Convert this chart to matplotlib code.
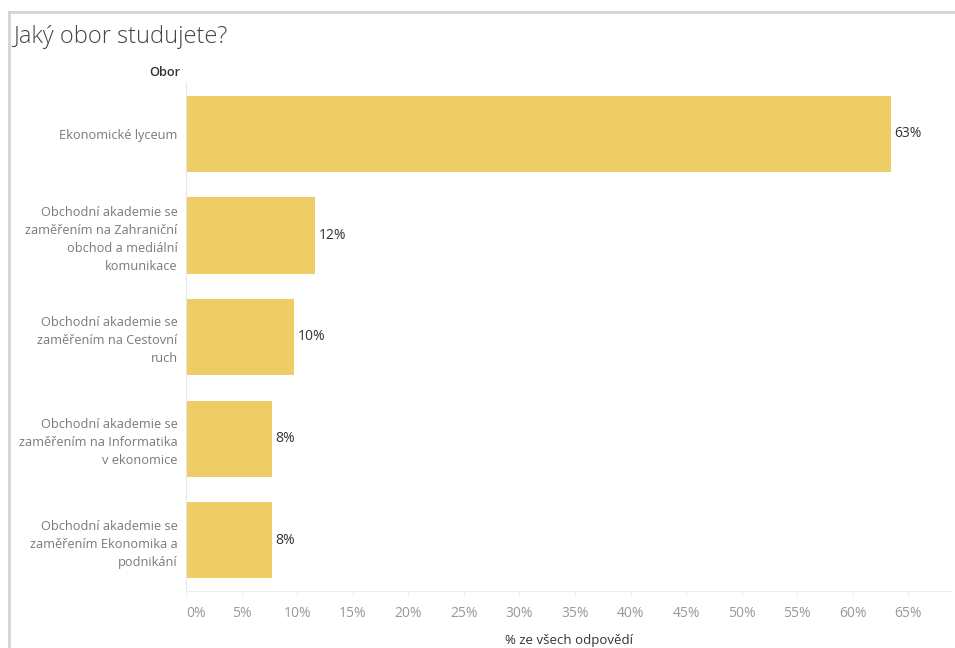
import matplotlib
matplotlib.use("Agg")
import matplotlib.pyplot as plt
from matplotlib.lines import Line2D

categories = [
    "Ekonomické lyceum",
    "Obchodní akademie se\nzaměřením na Zahraniční\nobchod a mediální\nkomunikace",
    "Obchodní akademie se\nzaměřením na Cestovní\nruch",
    "Obchodní akademie se\nzaměřením na Informatika\nv ekonomice",
    "Obchodní akademie se\nzaměřením Ekonomika a\npodnikání",
]
values = [63.4, 11.6, 9.7, 7.7, 7.7]
xticks = list(range(0, 70, 5))
xtick_labels = [f"{t}%" for t in xticks]

plt.rcParams['font.family'] = ['Open Sans', 'DejaVu Sans']

W, H = 955, 648
fig = plt.figure(figsize=(W / 100, H / 100), dpi=100)

def fx(px):
    return px / W

def fy(py):
    return 1 - py / H

ax_left, ax_right, ax_top, ax_bottom = 186, 952, 83, 591
ax = fig.add_axes([fx(ax_left), fy(ax_bottom), fx(ax_right - ax_left), (ax_bottom - ax_top) / H])

n = len(categories)
ypos = list(range(n))
ax.barh(ypos, values, height=0.75, color="#EFCD66", zorder=2)
ax.set_ylim(n - 0.5, -0.5)
ax.set_xlim(0, (ax_right - 185.5) / 11.12)

for y, v in zip(ypos, values):
    ax.text(v + 0.35, y, f"{round(v)}%", va="center", ha="left", fontsize=10, color="#333333")

ax.set_yticks(ypos)
ax.set_yticklabels(categories, fontsize=9.2, color="#7a7a7a", linespacing=1.5)
ax.tick_params(axis="y", length=0, pad=6)

ax.set_xticks(xticks)
ax.set_xticklabels(xtick_labels, fontsize=10, color="#999999")
ax.tick_params(axis="x", length=4, width=0.6, color="#eeeeee", pad=7, direction="out")
lbls = ax.get_xticklabels()
lbls[0].set_horizontalalignment("left")

for s in ["top", "right"]:
    ax.spines[s].set_visible(False)
ax.spines["left"].set_color("#e6e6e6")
ax.spines["left"].set_linewidth(0.8)
ax.spines["bottom"].set_color("#eeeeee")
ax.spines["bottom"].set_linewidth(0.8)

ax.set_xlabel("% ze všech odpovědí", fontsize=9.5, color="#333333", labelpad=9)

# title and header
fig.text(fx(13), fy(37), "Jaký obor studujete?", fontsize=17, color="#444444",
         fontweight="light", va="center", ha="left")
fig.text(fx(180), fy(73), "Obor", fontsize=9.2, color="#333333", fontweight="semibold",
         va="center", ha="right")

# dashboard border
fig.add_artist(Line2D([fx(9), fx(955)], [fy(12), fy(12)], color="#d4d4d4", lw=2, transform=fig.transFigure))
fig.add_artist(Line2D([fx(9), fx(9)], [fy(12), fy(648)], color="#d4d4d4", lw=2, transform=fig.transFigure))

fig.savefig("out.png", dpi=100)
